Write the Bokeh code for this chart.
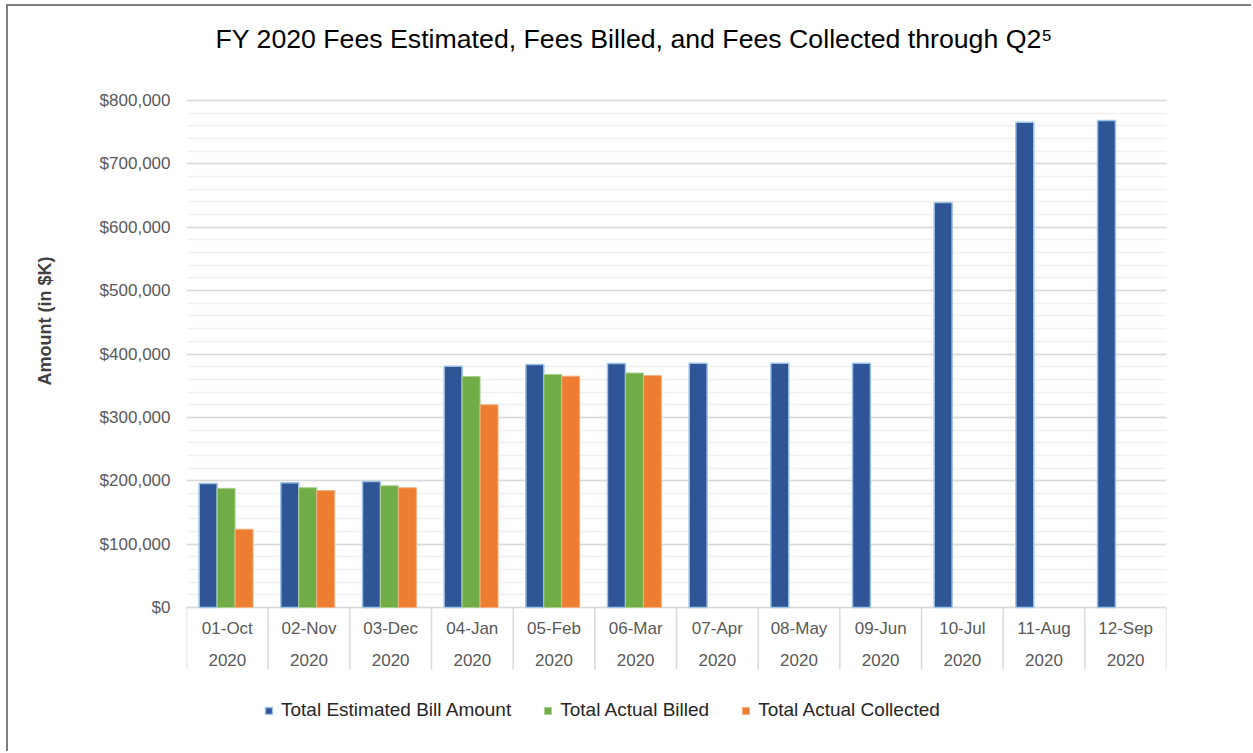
import numpy as np
from bokeh.plotting import figure
from bokeh.models import (FactorRange, Range1d, ColumnDataSource, FixedTicker,
                          NumeralTickFormatter, Legend, LegendItem, Title)
from bokeh.transform import dodge
from bokeh.core.properties import value
from bokeh.embed import file_html
from bokeh.resources import INLINE

# ---------------- data ----------------
months = ["01-Oct", "02-Nov", "03-Dec", "04-Jan", "05-Feb", "06-Mar",
          "07-Apr", "08-May", "09-Jun", "10-Jul", "11-Aug", "12-Sep"]
years = ["2020"] * 12
estimated = [195600, 197000, 198800, 380800, 383400, 385000,
             385500, 385500, 385500, 639000, 765800, 768400]
billed = [188000, 189000, 192000, 364500, 367700, 370000,
          None, None, None, None, None, None]
collected = [123500, 184600, 189000, 319800, 365000, 366000,
             None, None, None, None, None, None]
y_ticks = [0, 100000, 200000, 300000, 400000, 500000, 600000, 700000, 800000]
y_minor = list(range(0, 800001, 20000))
series_names = ["Total Estimated Bill Amount", "Total Actual Billed", "Total Actual Collected"]
title_text = "FY 2020 Fees Estimated, Fees Billed, and Fees Collected through Q2\u2075"
y_title = "Amount (in $K)"

# ---------------- layout constants ----------------
FONT = "Liberation Sans"
PX = 800000 / 507.0          # data units per screen pixel on y
W, H = 1245, 747

def nanify(v):
    return [np.nan if x is None else x for x in v]

src = ColumnDataSource(dict(month=months, year=years, est=estimated,
                            billed=nanify(billed), coll=nanify(collected)))

p = figure(width=W, height=H, output_backend="svg", toolbar_location=None,
           x_range=FactorRange(*months, range_padding=0),
           y_range=Range1d(-123 * PX, 592 * PX),
           x_axis_location=None,
           min_border_left=178, min_border_right=W - 1158,
           min_border_top=9, min_border_bottom=H - 724)
p.outline_line_color = None
p.background_fill_color = "white"
p.border_fill_color = "white"
p.xgrid.visible = False

# y axis
ax = p.yaxis[0]
ax.ticker = FixedTicker(ticks=y_ticks, minor_ticks=y_minor)
ax.formatter = NumeralTickFormatter(format="$0,0")
ax.axis_line_color = None
ax.major_tick_line_color = None
ax.minor_tick_line_color = None
ax.major_tick_out = 0
ax.major_tick_in = 0
ax.minor_tick_out = 0
ax.major_label_standoff = 16
ax.major_label_text_font = FONT
ax.major_label_text_font_size = "17px"
ax.major_label_text_color = "#595959"

g = p.ygrid[0]
g.bounds = (0, 800000)
g.grid_line_color = "#D9D9D9"
g.grid_line_width = 1.5
g.minor_grid_line_color = "#F0F0F0"
g.minor_grid_line_width = 1.5

# bars
r1 = p.vbar(x=dodge("month", -0.235, range=p.x_range), top="est", width=0.22, source=src,
            fill_color="#2F5597", line_color="#9DC3E6", line_width=1.5)
r2 = p.vbar(x=dodge("month", -0.015, range=p.x_range), top="billed", width=0.22, source=src,
            fill_color="#70AD47", line_color="#A9D18E", line_width=1)
r3 = p.vbar(x=dodge("month", 0.205, range=p.x_range), top="coll", width=0.22, source=src,
            fill_color="#ED7D31", line_color="#F4B183", line_width=1)

# category table below the axis
bounds_x = list(range(len(months) + 1))
p.segment(x0=bounds_x, y0=[0] * len(bounds_x), x1=bounds_x, y1=[-62 * PX] * len(bounds_x),
          line_color="#D9D9D9", line_width=1.5)
p.text(x="month", y=-21 * PX, text="month", source=src, text_align="center",
       text_baseline="middle", text_font=value(FONT), text_font_size="17px",
       text_color="#595959")
p.text(x="month", y=-52 * PX, text="year", source=src, text_align="center",
       text_baseline="middle", text_font=value(FONT), text_font_size="17px",
       text_color="#595959")

# chart title (inside the extended frame, above the plotted area)
p.text(x=[0], y=[569 * PX], text=[title_text], x_offset=29, text_align="left",
       text_baseline="middle", text_font=value(FONT), text_font_size="26.7px",
       text_color="#000000")

# legend
legend = Legend(items=[LegendItem(label=series_names[0], renderers=[r1]),
                       LegendItem(label=series_names[1], renderers=[r2]),
                       LegendItem(label=series_names[2], renderers=[r3])],
                orientation="horizontal", location=(78, 9),
                glyph_width=9, glyph_height=9, label_standoff=8, spacing=32,
                padding=0, margin=0, border_line_color=None,
                background_fill_alpha=0,
                label_text_font=FONT, label_text_font_size="19px",
                label_text_color="#262626")
p.add_layout(legend)

# y-axis title as a side title (outside the axis)
p.add_layout(Title(text=y_title, align="left", offset=345, vertical_align="bottom",
                   standoff=20, padding=(0, 0, 0, 32),
                   text_font=FONT, text_font_size="18px", text_font_style="bold",
                   text_color="#404040"), "left")

p.styles = {"margin-left": "8px", "margin-top": "6px",
            "box-shadow": "-2px -2px 0px 0px #7F7F7F"}

open("out.html", "w").write(file_html(p, INLINE))
